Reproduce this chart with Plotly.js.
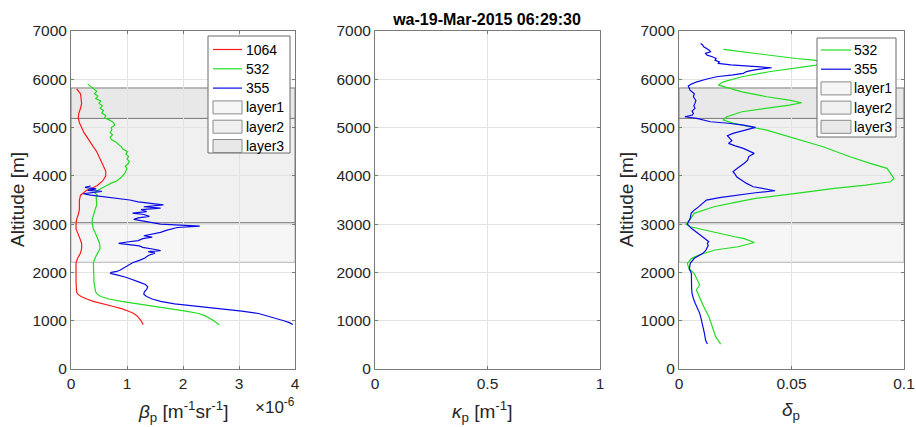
<!DOCTYPE html>
<html>
<head>
<meta charset="utf-8">
<script src="https://cdn.plot.ly/plotly-3.0.1.min.js"></script>
<style>
  html, body { margin: 0; padding: 0; background: #fff; }
  #chart { width: 916px; height: 427px; }
</style>
</head>
<body>
<div id="chart"></div>
<script>
// ---- Backscatter profiles (beta_p, in units of 1e-6 m^-1 sr^-1) ----
const alt1064 = [920,1000,1100,1150,1200,1250,1300,1350,1400,1450,1500,1550,1600,1800,2000,2200,2300,2400,2500,2600,2700,2800,2900,3000,3100,3200,3300,3400,3500,3600,3700,3750,3800,3900,4000,4100,4200,4300,4400,4500,4600,4700,4800,4900,5000,5100,5200,5300,5400,5500,5600,5700,5800];
const beta1064 = [1.29,1.25,1.18,1.12,1.02,0.90,0.74,0.56,0.40,0.28,0.18,0.12,0.10,0.09,0.09,0.09,0.12,0.17,0.19,0.19,0.16,0.12,0.09,0.09,0.10,0.13,0.15,0.15,0.15,0.17,0.28,0.38,0.47,0.57,0.62,0.62,0.58,0.54,0.50,0.46,0.40,0.34,0.29,0.23,0.19,0.15,0.13,0.14,0.17,0.19,0.18,0.17,0.10];

const alt532 = [910,1000,1100,1150,1200,1250,1300,1350,1400,1450,1500,1550,1600,1800,2000,2200,2300,2400,2500,2600,2700,2800,2900,3000,3100,3200,3300,3400,3500,3550,3600,3650,3700,3750,3800,3850,3900,3950,4000,4050,4100,4150,4200,4250,4300,4350,4400,4450,4500,4550,4600,4650,4700,4750,4800,4850,4900,4950,5000,5050,5100,5150,5200,5250,5300,5350,5400,5450,5500,5550,5600,5650,5700,5750,5800,5850,5900];
const beta532 = [2.65,2.55,2.40,2.28,2.05,1.75,1.45,1.15,0.90,0.68,0.53,0.47,0.44,0.41,0.40,0.40,0.43,0.48,0.52,0.51,0.48,0.44,0.40,0.38,0.38,0.40,0.43,0.46,0.46,0.45,0.47,0.42,0.48,0.55,0.64,0.72,0.82,0.88,0.93,0.96,0.98,1.00,0.97,1.02,1.04,1.00,1.03,0.98,1.01,0.93,0.90,0.85,0.80,0.72,0.70,0.74,0.70,0.73,0.72,0.78,0.76,0.70,0.60,0.62,0.55,0.58,0.52,0.56,0.50,0.53,0.44,0.48,0.42,0.46,0.40,0.36,0.30];

const alt355 = [920,960,1000,1050,1100,1150,1200,1250,1300,1350,1400,1450,1500,1550,1600,1650,1700,1750,1800,1850,1900,1950,1980,2000,2020,2050,2100,2150,2200,2250,2300,2350,2400,2430,2450,2480,2520,2550,2580,2600,2630,2660,2700,2730,2760,2800,2830,2870,2900,2930,2960,2980,3000,3030,3060,3100,3130,3160,3200,3230,3260,3300,3330,3360,3400,3430,3460,3500,3530,3560,3600,3630,3650,3680,3700,3730,3760,3790];
const beta355 = [3.96,3.90,3.80,3.65,3.50,3.35,3.05,2.65,2.20,1.85,1.60,1.45,1.35,1.30,1.31,1.35,1.37,1.33,1.22,1.10,0.98,0.82,0.70,0.72,0.82,0.88,0.95,1.02,1.10,1.22,1.32,1.38,1.50,1.38,1.60,1.48,1.28,1.22,0.98,0.85,1.00,1.20,1.28,1.45,1.30,1.52,1.60,1.70,1.82,1.90,2.30,1.95,1.60,1.45,1.30,1.12,1.20,1.40,1.30,1.10,1.35,1.25,1.60,1.30,1.65,1.45,1.20,1.05,0.85,0.55,0.35,0.22,0.40,0.55,0.30,0.45,0.25,0.35];

// ---- Particle depolarization ratio profiles ----
const altD532 = [517,669,876,1083,1290,1497,1636,1739,1843,1981,2085,2188,2292,2360,2464,2532,2620,2700,2739,2843,2946,3002,3120,3224,3360,3450,3534,3638,3741,3810,3878,3948,4052,4155,4259,4395,4602,4810,4948,5017,5093,5155,5224,5328,5397,5466,5514,5570,5638,5740,5811,5880,5948,6052,6156,6226,6294,6340,6397,6430,6500,6570,6600,6619];
const delta532 = [0.0185,0.0163,0.0148,0.0133,0.0110,0.0089,0.0077,0.0092,0.0081,0.0067,0.0044,0.0037,0.0056,0.0089,0.0160,0.0263,0.0335,0.0290,0.0248,0.0146,0.0050,0.0031,0.0053,0.0067,0.0155,0.0250,0.0340,0.0520,0.0690,0.0830,0.0940,0.0955,0.0940,0.0925,0.0850,0.0760,0.0640,0.0490,0.0390,0.0315,0.0240,0.0197,0.0212,0.0280,0.0390,0.0490,0.0545,0.0490,0.0390,0.0280,0.0227,0.0175,0.0197,0.0280,0.0400,0.0520,0.0610,0.0660,0.0600,0.0520,0.0400,0.0256,0.0230,0.0197];

const altD355 = [517,600,739,850,946,1050,1153,1260,1360,1460,1567,1670,1774,1880,1981,2070,2188,2292,2395,2450,2499,2560,2600,2636,2706,2809,2913,3002,3060,3120,3224,3280,3327,3431,3499,3550,3602,3650,3692,3740,3774,3844,3920,3981,4030,4085,4140,4188,4260,4327,4400,4466,4520,4569,4620,4673,4730,4777,4830,4880,4948,5004,5052,5090,5120,5160,5190,5224,5260,5294,5340,5397,5450,5501,5560,5638,5700,5776,5859,5900,5948,6000,6052,6090,6122,6160,6191,6239,6273,6300,6329,6360,6397,6430,6466,6500,6536,6570,6605,6640,6673,6710,6743];
const delta355 = [0.0126,0.0118,0.0113,0.0108,0.0105,0.0098,0.0092,0.0080,0.0072,0.0064,0.0058,0.0056,0.0055,0.0053,0.0055,0.0046,0.0050,0.0068,0.0106,0.0118,0.0125,0.0130,0.0126,0.0132,0.0113,0.0083,0.0055,0.0037,0.0045,0.0050,0.0054,0.0065,0.0079,0.0108,0.0122,0.0180,0.0256,0.0340,0.0427,0.0360,0.0330,0.0300,0.0275,0.0256,0.0250,0.0240,0.0255,0.0270,0.0290,0.0305,0.0310,0.0334,0.0310,0.0286,0.0250,0.0220,0.0235,0.0227,0.0215,0.0240,0.0301,0.0340,0.0286,0.0220,0.0140,0.0100,0.0079,0.0026,0.0060,0.0064,0.0058,0.0071,0.0066,0.0071,0.0075,0.0064,0.0068,0.0049,0.0041,0.0055,0.0080,0.0120,0.0167,0.0240,0.0286,0.0300,0.0330,0.0412,0.0300,0.0230,0.0173,0.0180,0.0160,0.0165,0.0148,0.0125,0.0118,0.0140,0.0133,0.0120,0.0110,0.0105,0.0096];

// ---- Detected layers: [base, top] in m ----
const layerNames = ['layer1', 'layer2', 'layer3'];
const layerBase = [2210, 3030, 5190];
const layerTop  = [3030, 5190, 5820];

const titleText = 'wa-19-Mar-2015 06:29:30';

// ---- styling ----
const FONT = 'Liberation Sans, Arial, Helvetica, sans-serif';
const layerFill = ['#f6f6f6', '#f0f0f0', '#e8e8e8'];
const layerEdge = ['#b4b4b4', '#7c7c7c', '#7c7c7c'];
const RED = '#ff1a1a', GREEN = '#22dd22', BLUE = '#0a0ae6';

const W = 916, H = 427;
const px = v => v / W;
const py = v => (H - v) / H;

function layerShapes(xmax, xa, ya) {
  return layerNames.map((name, i) => ({
    type: 'rect', xref: xa, yref: ya,
    x0: 0, x1: xmax, y0: layerBase[i], y1: layerTop[i],
    fillcolor: layerFill[i],
    line: { color: layerEdge[i], width: 1 },
    layer: 'below'
  }));
}

function lineTrace(x, y, name, color, xa, ya) {
  return {
    type: 'scatter', mode: 'lines', x: x, y: y, name: name,
    line: { color: color, width: 1.2 },
    xaxis: xa, yaxis: ya, showlegend: false
  };
}

const traces = [
  lineTrace(beta1064, alt1064, '1064', RED, 'x', 'y'),
  lineTrace(beta532, alt532, '532', GREEN, 'x', 'y'),
  lineTrace(beta355, alt355, '355', BLUE, 'x', 'y'),
  { type: 'scatter', mode: 'lines', x: [], y: [], xaxis: 'x2', yaxis: 'y2', showlegend: false },
  lineTrace(delta532, altD532, '532', GREEN, 'x3', 'y3'),
  lineTrace(delta355, altD355, '355', BLUE, 'x3', 'y3')
];

// MATLAB-style legend box: line samples and patch swatches, in pixel positions
function legendBox(box, rows) {
  const shapes = [], notes = [];
  shapes.push({ type: 'rect', xref: 'paper', yref: 'paper',
    x0: px(box.x0), x1: px(box.x1), y0: py(box.y1), y1: py(box.y0),
    fillcolor: '#ffffff', line: { color: '#6a6a6a', width: 1 } });
  rows.forEach((r, i) => {
    const cy = box.first + i * box.step;
    if (r.kind === 'line') {
      shapes.push({ type: 'line', xref: 'paper', yref: 'paper',
        x0: px(box.sx0), x1: px(box.sx1), y0: py(cy), y1: py(cy),
        line: { color: r.color, width: 1.2 } });
    } else {
      shapes.push({ type: 'rect', xref: 'paper', yref: 'paper',
        x0: px(box.sx0), x1: px(box.sx1), y0: py(cy + 6.5), y1: py(cy - 6.5),
        fillcolor: r.fill, line: { color: r.edge, width: 1 } });
    }
    notes.push({ text: r.label, xref: 'paper', yref: 'paper',
      x: px(box.tx), y: py(cy), xanchor: 'left', yanchor: 'middle', showarrow: false,
      font: { family: FONT, size: 14, color: '#000' } });
  });
  return { shapes, notes };
}

const layerRows = layerNames.map((n, i) => ({ kind: 'box', label: n, fill: layerFill[i], edge: '#8a8a8a' }));

const leftLegend = legendBox(
  { x0: 208, x1: 290, y0: 36, y1: 153, first: 49.5, step: 19.3, sx0: 213, sx1: 242, tx: 244 },
  [{ kind: 'line', label: '1064', color: RED },
   { kind: 'line', label: '532', color: GREEN },
   { kind: 'line', label: '355', color: BLUE }, ...layerRows]);

const rightLegend = legendBox(
  { x0: 817, x1: 896, y0: 38, y1: 137, first: 50, step: 19.2, sx0: 821, sx1: 851, tx: 852 },
  [{ kind: 'line', label: '532', color: GREEN },
   { kind: 'line', label: '355', color: BLUE }, ...layerRows]);

const tickFont = { family: FONT, size: 15.5, color: '#262626' };

function xAxis(domain, range, dtick, anchor) {
  return {
    domain: domain, range: range, dtick: dtick, tick0: 0, anchor: anchor,
    showgrid: true, gridcolor: '#e3e3e3', gridwidth: 1, zeroline: false,
    showline: true, linecolor: '#7a7a7a', linewidth: 1, mirror: 'ticks',
    ticks: 'inside', ticklen: 3, tickcolor: '#7a7a7a',
    tickfont: tickFont, fixedrange: true
  };
}
function yAxis(range, anchor) {
  return {
    domain: [py(369), py(31)], range: range, dtick: 1000, tick0: 0, anchor: anchor,
    showgrid: true, gridcolor: '#e3e3e3', gridwidth: 1, zeroline: false,
    showline: true, linecolor: '#7a7a7a', linewidth: 1, mirror: 'ticks',
    ticks: 'inside', ticklen: 3, tickcolor: '#7a7a7a',
    tickfont: tickFont, fixedrange: true
  };
}

const labelFont = { family: FONT, size: 19, color: '#262626' };

const layout = {
  width: W, height: H,
  margin: { l: 0, r: 0, t: 0, b: 0 },
  paper_bgcolor: '#ffffff', plot_bgcolor: '#ffffff',
  showlegend: false,
  xaxis: xAxis([px(71), px(295)], [0, 4], 1, 'y'),
  yaxis: yAxis([0, 7000], 'x'),
  xaxis2: xAxis([px(375), px(600)], [0, 1], 0.5, 'y2'),
  yaxis2: yAxis([0, 7000], 'x2'),
  xaxis3: xAxis([px(679), px(904)], [0, 0.1], 0.05, 'y3'),
  yaxis3: yAxis([0, 7000], 'x3'),
  shapes: [
    ...layerShapes(4, 'x', 'y'),
    ...layerShapes(0.1, 'x3', 'y3'),
    ...leftLegend.shapes,
    ...rightLegend.shapes
  ],
  title: {
    text: '<b>' + titleText + '</b>',
    font: { family: FONT, size: 16, color: '#000' },
    x: px(487), xref: 'paper', xanchor: 'center',
    y: py(19), yref: 'container', yanchor: 'middle'
  },
  annotations: [
    { text: 'Altitude [m]', x: px(18), y: py(200), xref: 'paper', yref: 'paper',
      textangle: -90, showarrow: false, font: labelFont, xanchor: 'center', yanchor: 'middle' },
    { text: 'Altitude [m]', x: px(627), y: py(200), xref: 'paper', yref: 'paper',
      textangle: -90, showarrow: false, font: labelFont, xanchor: 'center', yanchor: 'middle' },
    { text: '<i>β</i><sub>p</sub> [m<sup>-1</sup>sr<sup>-1</sup>]', x: px(183), y: py(411),
      xref: 'paper', yref: 'paper', showarrow: false, font: labelFont, xanchor: 'center', yanchor: 'middle' },
    { text: '×10<sup>-6</sup>', x: px(297), y: py(406), xref: 'paper', yref: 'paper',
      showarrow: false, font: { family: FONT, size: 17, color: '#262626' }, xanchor: 'right', yanchor: 'middle' },
    { text: '<i>κ</i><sub>p</sub> [m<sup>-1</sup>]', x: px(482), y: py(411),
      xref: 'paper', yref: 'paper', showarrow: false, font: labelFont, xanchor: 'center', yanchor: 'middle' },
    { text: '<i>δ</i><sub>p</sub>', x: px(791), y: py(411),
      xref: 'paper', yref: 'paper', showarrow: false, font: labelFont, xanchor: 'center', yanchor: 'middle' },
    ...leftLegend.notes,
    ...rightLegend.notes
  ]
};

Plotly.newPlot('chart', traces, layout, { staticPlot: true, displayModeBar: false });
</script>
</body>
</html>
